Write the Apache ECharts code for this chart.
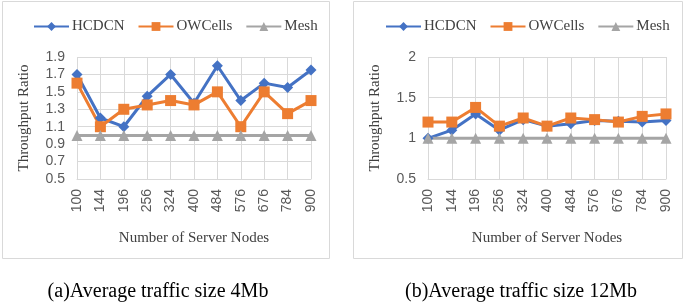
<!DOCTYPE html>
<html><head><meta charset="utf-8">
<script src="https://cdn.jsdelivr.net/npm/echarts@6/dist/echarts.min.js"></script>
<style>html,body{margin:0;padding:0;background:#fff;}#c{width:685px;height:305px;}</style>
</head><body><div id="c"></div>
<script>
const categories = ['100','144','196','256','324','400','484','576','676','784','900'];
const seriesNames = ['HCDCN','OWCells','Mesh'];
const hcdcnA = [1.7,1.2,1.1,1.45,1.7,1.37,1.8,1.4,1.6,1.55,1.75];
const owcellsA = [1.6,1.1,1.3,1.35,1.4,1.35,1.5,1.1,1.5,1.25,1.4];
const meshA = [1,1,1,1,1,1,1,1,1,1,1];
const hcdcnB = [1.0,1.1,1.3,1.1,1.23,1.15,1.18,1.22,1.21,1.2,1.22];
const owcellsB = [1.2,1.2,1.38,1.15,1.25,1.15,1.25,1.23,1.2,1.27,1.3];
const meshB = [1,1,1,1,1,1,1,1,1,1,1];
const captions = ['(a)Average traffic size 4Mb','(b)Average traffic size 12Mb'];
const xName = 'Number of Server Nodes';
const yName = 'Throughput Ratio';

const colors = ['#4472C4','#ED7D31','#A5A5A5'];
const symbols = ['diamond','rect','triangle'];
const symSizes = [11,11,11];
const serif = '"Liberation Serif","Times New Roman",serif';
const sans = '"Liberation Sans",Arial,sans-serif';

const chart = echarts.init(document.getElementById('c'));
function xAxis(gi){
  return {type:'category',gridIndex:gi,data:categories,boundaryGap:false,
    axisLine:{show:true,lineStyle:{color:'#d9d9d9',width:1}},axisTick:{show:false},
    splitLine:{show:true,lineStyle:{color:'#d9d9d9',width:1}},
    axisLabel:{rotate:90,color:'#595959',fontFamily:sans,fontSize:14,margin:10,interval:0},
    name:xName,nameLocation:'middle',nameGap:52,
    nameTextStyle:{color:'#404040',fontFamily:serif,fontSize:15}};
}
function yAxis(gi,min,max,interval){
  return {type:'value',gridIndex:gi,min:min,max:max,interval:interval,
    axisLine:{show:false},axisTick:{show:false},
    splitLine:{show:true,lineStyle:{color:'#d9d9d9',width:1}},
    axisLabel:{color:'#595959',fontFamily:sans,fontSize:14,margin:12,
      formatter:v=>{return interval===0.2? v.toFixed(1) : (Math.round(v*10)/10).toString();}},
    name:yName,nameLocation:'middle',nameGap:45,
    nameTextStyle:{color:'#404040',fontFamily:serif,fontSize:15}};
}
function mkSeries(gi,datas){
  return datas.map((d,i)=>({name:seriesNames[i],type:'line',xAxisIndex:gi,yAxisIndex:gi,data:d,
    symbol:symbols[i],symbolSize:symSizes[i],showSymbol:true,
    lineStyle:{color:colors[i],width:3},itemStyle:{color:colors[i]},emphasis:{disabled:true}}));
}
const legendBase = {data:seriesNames,top:14,itemWidth:35,itemHeight:11,itemGap:13,
  textStyle:{fontFamily:serif,fontSize:15,color:'#404040',padding:[0,0,0,-2]}};
chart.setOption({
  animation:false,
  color:colors,
  grid:[{left:77,right:374,top:57,bottom:126},{left:428,right:19,top:57,bottom:126}],
  legend:[Object.assign({},legendBase,{left:28}),Object.assign({},legendBase,{left:380})],
  xAxis:[xAxis(0),xAxis(1)],
  yAxis:[yAxis(0,0.5,1.9,0.2),yAxis(1,0.5,2,0.5)],
  series:[...mkSeries(0,[hcdcnA,owcellsA,meshA]),...mkSeries(1,[hcdcnB,owcellsB,meshB])],
  graphic:[
    {type:'rect',shape:{x:2.5,y:1.5,width:327,height:257},style:{fill:'none',stroke:'#d9d9d9',lineWidth:1},z:-1},
    {type:'rect',shape:{x:353.5,y:1.5,width:329,height:257},style:{fill:'none',stroke:'#d9d9d9',lineWidth:1},z:-1},
    {type:'text',x:158,y:292,style:{text:captions[0],font:'20px '+serif,fill:'#000',textAlign:'center',textVerticalAlign:'middle'}},
    {type:'text',x:521,y:292,style:{text:captions[1],font:'20px '+serif,fill:'#000',textAlign:'center',textVerticalAlign:'middle'}}
  ]
});
</script></body></html>
